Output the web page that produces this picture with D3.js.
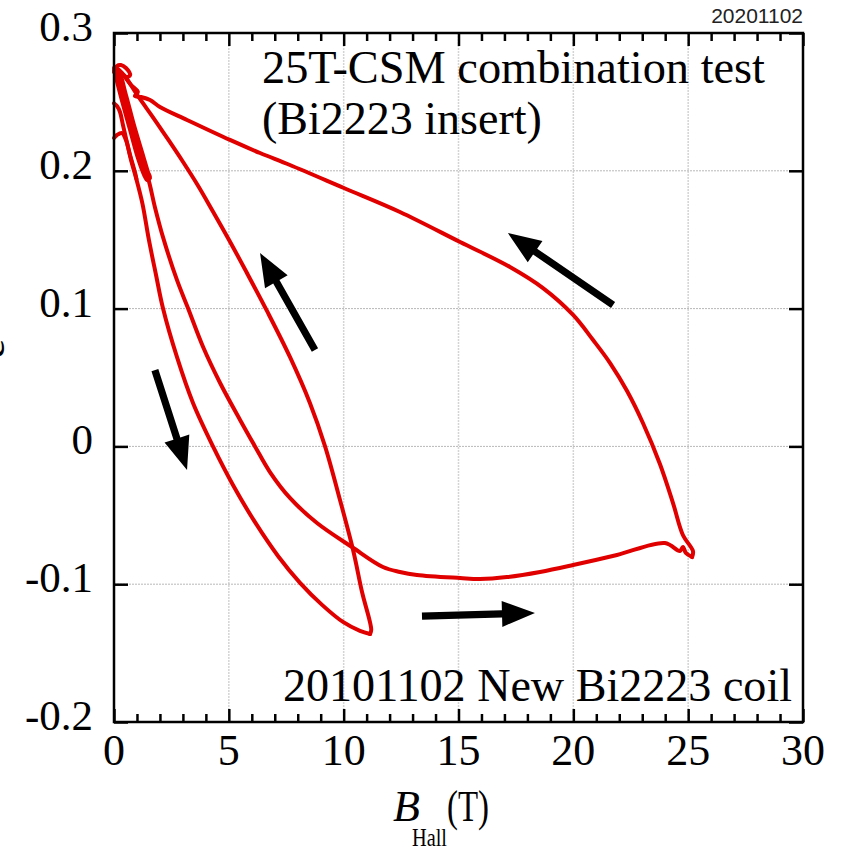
<!DOCTYPE html>
<html><head><meta charset="utf-8">
<script src="https://cdn.jsdelivr.net/npm/d3@7"></script>
<style>body{margin:0;background:#fff}svg{display:block}</style>
</head><body>
<script>
// ---- data (B_Hall in T, hoop strain) ----
const xMajor = [0,5,10,15,20,25,30];
const yMajor = [-0.2,-0.1,0,0.1,0.2,0.3];
const yTickLabels = ["-0.2","-0.1","0","0.1","0.2","0.3"];
const xTickLabels = ["0","5","10","15","20","25","30"];

const loop1Start = [[0,0.2238],[0.13,0.226],[0.35,0.2274],[0.52,0.2224],[0.70,0.2115],[0.91,0.1991],[0.98,0.194]];
const loop1Up = [[0,0.249],[0.13,0.247],[0.26,0.2427],[0.39,0.2332],[0.57,0.2202],[0.74,0.2078],[0.96,0.1948],[1.24,0.1760],[1.52,0.1498],[1.83,0.1244],[2.13,0.1004],[2.74,0.0649],[3.44,0.0315],[4.31,0.0],[5.18,-0.028],[6.14,-0.055],[7.14,-0.0795],[8.10,-0.099],[9.06,-0.115],[9.97,-0.1274],[10.71,-0.1339],[11.15,-0.1361]];
const loop1Down = [[11.15,-0.1361],[11.2,-0.133],[10.80,-0.1057],[10.41,-0.0752],[9.84,-0.0389],[9.19,0.0],[8.53,0.0315],[7.66,0.0649],[6.66,0.0983],[5.79,0.1258],[5.01,0.1498],[4.27,0.1716],[3.64,0.1897],[2.98,0.2071],[2.37,0.2224],[1.72,0.2383],[1.07,0.2536],[0.50,0.2681],[0.22,0.2731]];
const apex = [[0,0.2717],[0.13,0.2761],[0.30,0.2768],[0.52,0.2746],[0.70,0.2695],[0.57,0.2681],[0.26,0.2717],[0.09,0.2739]];
const smallLoop = [[0,0.2746],[0.17,0.2739],[0.52,0.2550],[0.87,0.2332],[1.22,0.2136],[1.48,0.1991],[1.57,0.1948],[1.44,0.1933],[1.31,0.197],[1.04,0.2093],[0.70,0.2296],[0.35,0.2507],[0.09,0.2673],[0,0.2731]];
const loop2Up = [[0.09,0.2731],[0.35,0.2572],[0.65,0.2383],[0.96,0.2202],[1.26,0.2042],[1.48,0.1948],[1.79,0.173],[2.13,0.152],[2.74,0.1208],[3.22,0.1004],[3.88,0.0721],[4.62,0.046],[5.49,0.0192],[6.14,0.0],[6.79,-0.0186],[7.66,-0.0374],[8.84,-0.0556],[10.36,-0.073],[11.71,-0.0875],[12.45,-0.0911],[13.19,-0.0933],[15.07,-0.0955],[15.94,-0.0962],[17.11,-0.0948],[18.55,-0.0911],[19.99,-0.0861],[21.90,-0.0788],[23.99,-0.0701],[24.64,-0.0759],[24.77,-0.0730],[24.90,-0.0773],[25.17,-0.0803]];
const loop2Down = [[25.17,-0.0803],[25.21,-0.0760],[24.77,-0.0643],[24.34,-0.0411],[23.77,-0.0128],[23.03,0.0170],[22.34,0.0402],[21.60,0.0605],[20.86,0.0772],[19.99,0.0954],[18.68,0.1149],[17.24,0.1302],[15.07,0.1483],[12.45,0.1701],[10.01,0.1875],[7.66,0.2042],[6.36,0.2129],[5.05,0.2224],[3.18,0.2369],[2.0,0.2463],[1.57,0.2514],[1.18,0.2536],[0.91,0.2543],[1.04,0.2572],[0.74,0.2623],[0.44,0.2688],[0.17,0.2731]];
const segments = [loop1Start, loop1Up, loop1Down, apex, smallLoop, loop2Up, loop2Down];

const arrowTails = [[21.73,0.1026],[8.75,0.0700],[1.78,0.0554],[13.41,-0.1231]];
const arrowTips  = [[17.15,0.1549],[6.36,0.1403],[3.18,-0.0171],[18.33,-0.1209]];

const title1 = "25T-CSM combination test";
const title2 = "(Bi2223 insert)";
const note = "20101102 New Bi2223 coil";
const stamp = "20201102";

// ---- drawing ----
const W = 845, H = 853;
const svg = d3.select("body").append("svg").attr("width", W).attr("height", H);
const x = d3.scaleLinear().domain([0,30]).range([114,803]);
const y = d3.scaleLinear().domain([-0.2,0.3]).range([722,33]);
const serif = "'Liberation Serif','Times New Roman',Times,serif";

// grid
svg.append("g").selectAll("line").data(xMajor.slice(1,-1)).join("line")
  .attr("x1", d=>x(d)).attr("x2", d=>x(d)).attr("y1", y(0.3)).attr("y2", y(-0.2))
  .attr("stroke","#d4d4d4").attr("stroke-width",1.5).attr("stroke-dasharray","2,1");
svg.append("g").selectAll("line").data(yMajor.slice(1,-1)).join("line")
  .attr("x1", x(0)).attr("x2", x(30)).attr("y1", d=>y(d)).attr("y2", d=>y(d))
  .attr("stroke","#b8b8b8").attr("stroke-width",1).attr("stroke-dasharray","2,1");

// curves
const line = d3.line().x(d=>x(d[0])).y(d=>y(d[1])).curve(d3.curveCatmullRom.alpha(0.5));
svg.append("g").selectAll("path").data(segments).join("path")
  .attr("d", line).attr("fill","none").attr("stroke","#e00000")
  .attr("stroke-width",4).attr("stroke-linejoin","round").attr("stroke-linecap","round");

// arrows
const ag = svg.append("g");
arrowTails.forEach((t,i)=>{
  const p0=[x(t[0]),y(t[1])], p1=[x(arrowTips[i][0]),y(arrowTips[i][1])];
  const dx=p1[0]-p0[0], dy=p1[1]-p0[1], len=Math.hypot(dx,dy);
  const ux=dx/len, uy=dy/len, nx=-uy, ny=ux;
  const L=33, HW=13, w=3.6;
  const b=[p1[0]-ux*L, p1[1]-uy*L];
  const pts=[[p0[0]+nx*w,p0[1]+ny*w],[b[0]+nx*w,b[1]+ny*w],[b[0]+nx*HW,b[1]+ny*HW],p1,
             [b[0]-nx*HW,b[1]-ny*HW],[b[0]-nx*w,b[1]-ny*w],[p0[0]-nx*w,p0[1]-ny*w]];
  ag.append("polygon").attr("points", pts.map(p=>p.join(",")).join(" ")).attr("fill","#000");
});

// axes ticks (inward)
const minorX = d3.range(0,31,1).filter(v=>v%5!==0);
function tickAxis(gen, tr){ const g=svg.append("g").attr("transform",tr).call(gen);
  g.selectAll("text").remove(); g.select(".domain").remove();
  g.selectAll("line").attr("stroke","#000").attr("stroke-width",2.5); return g; }
tickAxis(d3.axisBottom(x).tickValues(xMajor).tickSize(-13), `translate(0,${y(-0.2)})`);
tickAxis(d3.axisBottom(x).tickValues(minorX).tickSize(-8), `translate(0,${y(-0.2)})`);
tickAxis(d3.axisTop(x).tickValues(xMajor).tickSize(-13), `translate(0,${y(0.3)})`);
tickAxis(d3.axisTop(x).tickValues(minorX).tickSize(-8), `translate(0,${y(0.3)})`);
tickAxis(d3.axisLeft(y).tickValues(yMajor).tickSize(-14), `translate(${x(0)},0)`);
tickAxis(d3.axisRight(y).tickValues(yMajor).tickSize(-14), `translate(${x(30)},0)`);

// frame
svg.append("rect").attr("x",x(0)).attr("y",y(0.3)).attr("width",x(30)-x(0)).attr("height",y(-0.2)-y(0.3))
  .attr("fill","none").attr("stroke","#000").attr("stroke-width",2.5);

// tick labels
svg.append("g").selectAll("text").data(yMajor).join("text")
  .attr("x", 93).attr("y", d=>y(d)+8).attr("text-anchor","end")
  .style("font-family",serif).style("font-size","43px").text((d,i)=>yTickLabels[i]);
svg.append("g").selectAll("text").data(xMajor).join("text")
  .attr("x", d=>x(d)).attr("y", 765).attr("text-anchor","middle")
  .style("font-family",serif).style("font-size","44px").text((d,i)=>xTickLabels[i]);

// annotations
svg.append("text").attr("x",262).attr("y",83).style("font-family",serif).style("font-size","46px")
  .attr("textLength",503).attr("lengthAdjust","spacingAndGlyphs").text(title1);
svg.append("text").attr("x",262).attr("y",134).style("font-family",serif).style("font-size","46px").text(title2);
svg.append("text").attr("x",283).attr("y",701).style("font-family",serif).style("font-size","46px")
  .attr("textLength",509).attr("lengthAdjust","spacingAndGlyphs").text(note);
svg.append("text").attr("x",803).attr("y",23).attr("text-anchor","end").style("font-family","'Liberation Sans',Arial,sans-serif").style("font-size","21px").attr("fill","#222").text(stamp);

// axis title
svg.append("text").attr("x",393).attr("y",821).style("font-family",serif).style("font-size","44px").style("font-style","italic").text("B");
svg.append("text").attr("x",412).attr("y",846).style("font-family",serif).style("font-size","26px")
  .attr("textLength",35).attr("lengthAdjust","spacingAndGlyphs").text("Hall");
svg.append("text").attr("x",447).attr("y",821).style("font-family",serif).style("font-size","44px")
  .attr("textLength",42).attr("lengthAdjust","spacingAndGlyphs").text("(T)");
// y title (mostly outside the canvas, as in the reference)
svg.append("text").attr("transform","translate(4,349) rotate(-90)").attr("text-anchor","middle")
  .style("font-family",serif).style("font-size","42px").text("ε");
</script>
</body></html>
